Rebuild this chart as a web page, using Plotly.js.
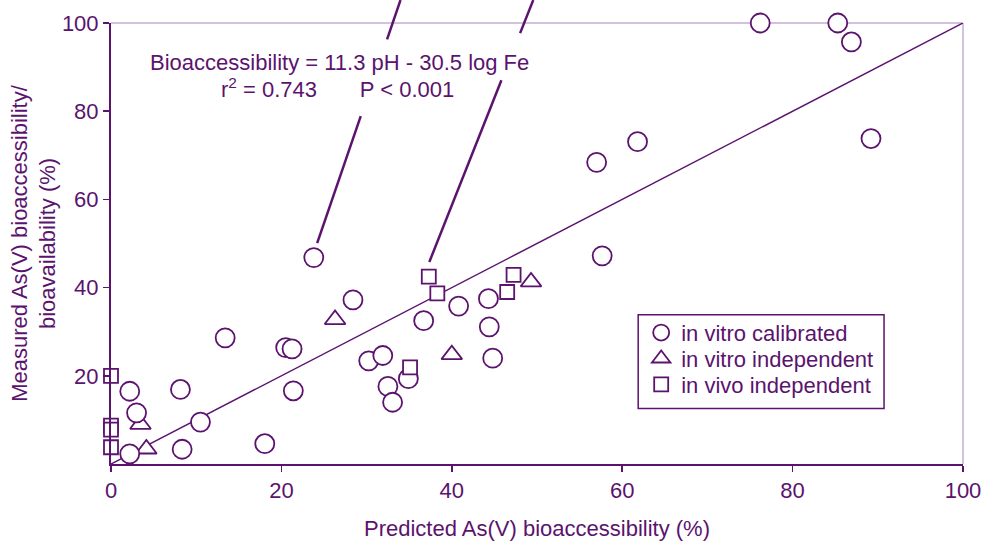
<!DOCTYPE html>
<html>
<head>
<meta charset="utf-8">
<script src="https://cdn.plot.ly/plotly-3.0.1.min.js"></script>
<style>html,body{margin:0;padding:0;background:#fff}#chart{width:1000px;height:541px}</style>
</head>
<body>
<div id="chart"></div>
<script>
// in vitro calibrated (circles)
const calibX = [23.8, 28.4, 13.4, 20.5, 21.25, 2.2, 8.15, 3.0, 10.5, 2.2, 8.35, 18.05, 21.4,
  30.25, 31.9, 32.5, 33.05, 34.9, 36.7, 40.8, 44.3, 44.4, 44.8, 57.65, 76.2, 85.3, 86.9, 61.8, 57.0, 89.2];
const calibY = [46.8, 37.2, 28.6, 26.4, 26.1, 16.5, 16.9, 11.6, 9.5, 2.3, 3.35, 4.6, 16.6,
  23.4, 24.6, 17.6, 14.0, 19.35, 32.5, 35.8, 37.5, 31.1, 24.0, 47.2, 100, 100, 95.7, 73.1, 68.4, 73.8];
// in vitro independent (triangles)
const vitroIndX = [3.46, 4.15, 26.3, 40.0, 49.3];
const vitroIndY = [9.0, 3.4, 32.75, 24.8, 41.3];
// in vivo independent (squares)
const vivoX = [0, 0, 0, 0, 37.3, 38.3, 35.1, 47.25, 46.5];
const vivoY = [20.0, 8.7, 7.8, 3.8, 42.5, 38.7, 21.9, 42.9, 39.0];
// 1:1 line
const lineX = [0, 100];
const lineY = [0, 100];
const xTicks = [0, 20, 40, 60, 80, 100];
const yTicks = [20, 40, 60, 80, 100];

const dark = '#5b136e';
const light = '#c6acd4';
const fontFam = 'Arial, "Liberation Sans", sans-serif';
const fs = 22;

// pixel helpers for layout placement (plot area: x 110.5..963, y 22.7..464.5)
const PX0 = 110.5, PW = 852.5, PY0 = 464.5, PH = 441.8;
const px2paper = p => (p - PX0) / PW;
const py2paper = p => (PY0 - p) / PH;

const traces = [
  {x: lineX, y: lineY, mode: 'lines', line: {color: dark, width: 1.5}, showlegend: false, hoverinfo: 'skip'},
  {x: vitroIndX, y: vitroIndY, mode: 'markers', name: 'in vitro independent', legend: 'legend2', cliponaxis: false,
   marker: {symbol: 'triangle-up', size: 18, color: '#fff', line: {color: dark, width: 1.8}}},
  {x: calibX, y: calibY, mode: 'markers', name: 'in vitro calibrated', legend: 'legend', cliponaxis: false,
   marker: {symbol: 'circle', size: 19, color: '#fff', line: {color: dark, width: 1.8}}},
  {x: vivoX, y: vivoY, mode: 'markers', name: 'in vivo independent', legend: 'legend3', cliponaxis: false,
   marker: {symbol: 'square', size: 14, color: '#fff', line: {color: dark, width: 1.8}}}
];

// pointer lines (data coordinates -> paper), each with a gap behind the equation text
function seg(x0, y0, x1, y1) {
  return {type: 'line', xref: 'paper', yref: 'paper', x0: x0/100, y0: y0/100, x1: x1/100, y1: y1/100,
          line: {color: dark, width: 2.5}, layer: 'above'};
}
function pointer(top, bot, gapTopY, gapBotY) {
  const xAt = y => top[0] + (bot[0]-top[0]) * (y - top[1]) / (bot[1]-top[1]);
  return [seg(top[0], top[1], xAt(gapTopY), gapTopY), seg(xAt(gapBotY), gapBotY, bot[0], bot[1])];
}
const shapes = [
  {type: 'line', xref: 'paper', yref: 'paper', x0: 0, y0: 1, x1: 1, y1: 1, line: {color: light, width: 1.5}, layer: 'below'},
  {type: 'line', xref: 'paper', yref: 'paper', x0: 1, y0: 0, x1: 1, y1: 1, line: {color: light, width: 1.5}, layer: 'below'},
  ...pointer([33.98, 105.2], [24.2, 50.1], 96.3, 78.9),
  ...pointer([49.56, 105.2], [37.36, 45.8], 97.7, 87.0),
  // legend frame
  {type: 'rect', xref: 'paper', yref: 'paper', x0: px2paper(638), x1: px2paper(884), y0: py2paper(315), y1: py2paper(409),
   line: {color: dark, width: 1.5}, fillcolor: 'rgba(0,0,0,0)', layer: 'above'}
];

function legendAt(rowY) {
  return {x: px2paper(641), y: py2paper(rowY), xanchor: 'left', yanchor: 'middle', borderwidth: 0,
          bgcolor: 'rgba(0,0,0,0)', font: {family: fontFam, size: fs, color: dark}};
}

const layout = {
  width: 1000, height: 541,
  margin: {l: 110.5, r: 37, t: 22.7, b: 76.5},
  paper_bgcolor: '#fff', plot_bgcolor: '#fff',
  font: {family: fontFam, size: fs, color: dark},
  showlegend: true,
  legend: legendAt(333),
  legend2: legendAt(359),
  legend3: legendAt(385),
  xaxis: {range: [0, 100], tickvals: xTicks, ticks: 'outside', ticklen: 6, tickwidth: 1.5, tickcolor: dark,
          showline: true, linecolor: dark, linewidth: 2, showgrid: false, zeroline: false,
          tickfont: {size: fs, color: dark},
          title: {text: 'Predicted As(V) bioaccessibility (%)', font: {size: fs, color: dark}, standoff: 18}},
  yaxis: {range: [0, 100], tickvals: yTicks, ticks: 'outside', ticklen: 6, tickwidth: 1.5, tickcolor: dark,
          showline: true, linecolor: dark, linewidth: 2, showgrid: false, zeroline: false,
          tickfont: {size: fs, color: dark},
          title: {text: 'Measured As(V) bioaccessibility/<br>bioavailability (%)', font: {size: fs, color: dark}, standoff: 0}},
  shapes: shapes,
  annotations: [
    {xref: 'paper', yref: 'paper', x: px2paper(339.5), y: py2paper(62), xanchor: 'center', yanchor: 'middle',
     text: 'Bioaccessibility = 11.3 pH - 30.5 log Fe', showarrow: false, font: {size: fs, color: dark}},
    {xref: 'paper', yref: 'paper', x: px2paper(337.5), y: py2paper(88), xanchor: 'center', yanchor: 'middle',
     text: 'r<sup>2</sup> = 0.743&nbsp;&nbsp;&nbsp;&nbsp;&nbsp;&nbsp;&nbsp;P < 0.001', showarrow: false, font: {size: fs, color: dark}}
  ]
};

Plotly.newPlot('chart', traces, layout, {displayModeBar: false, staticPlot: true});
</script>
</body>
</html>
